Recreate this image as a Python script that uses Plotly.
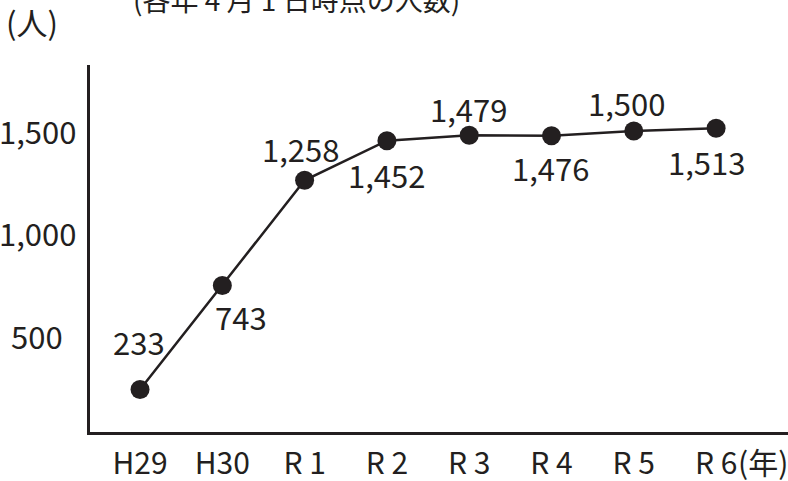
import plotly.graph_objects as go

years = ["H29", "H30", "R 1", "R 2", "R 3", "R 4", "R 5", "R 6"]
counts = [233, 743, 1258, 1452, 1479, 1476, 1500, 1513]
count_labels = ["233", "743", "1,258", "1,452", "1,479", "1,476", "1,500", "1,513"]
ytick_vals = [500, 1000, 1500]
ytick_text = ["500", "1,000", "1,500"]
# label placement (px) relative to each point
label_dx = [-1, 19, -4, 0, -1, -1, -7, -10]
label_dy = [48, -31, 32, -34, 27, -32, 28, -33]

FONT = "Noto Sans CJK JP"
INK = "#231f20"
FS = 31

xs = list(range(len(years)))

fig = go.Figure()
fig.add_trace(go.Scatter(
    x=xs, y=counts, mode="lines+markers",
    line=dict(color=INK, width=2.5),
    marker=dict(color=INK, size=19),
    hoverinfo="skip", showlegend=False,
))

annotations = []
for x, v, t, dx, dy in zip(xs, counts, count_labels, label_dx, label_dy):
    annotations.append(dict(x=x, y=v, xref="x", yref="y", text=t, showarrow=False,
                            xanchor="center", yanchor="middle", xshift=dx, yshift=dy,
                            font=dict(family=FONT, size=FS, color=INK)))
for v, t in zip(ytick_vals, ytick_text):
    annotations.append(dict(x=-53 / 698, y=v, xref="paper", yref="y", text=t, showarrow=False,
                            xanchor="center", yanchor="middle",
                            font=dict(family=FONT, size=FS, color=INK)))
annotations.append(dict(x=(763 - 90) / 698, y=-(461 - 432) / 367, xref="paper", yref="paper",
                        text="(年)", showarrow=False, xanchor="center", yanchor="middle",
                        font=dict(family=FONT, size=30, color=INK)))
annotations.append(dict(x=(32 - 90) / 698, y=1 + (65 - 22) / 367, xref="paper", yref="paper",
                        text="(人)", showarrow=False, xanchor="center", yanchor="middle",
                        font=dict(family=FONT, size=FS, color=INK)))
annotations.append(dict(x=(296 - 90) / 698, y=1 + (65 + 1) / 367, xref="paper", yref="paper",
                        text="(各年 4 月 1 日時点の人数)", showarrow=False, xanchor="center",
                        yanchor="middle",
                        font=dict(family=FONT, size=28, color=INK)))

fig.update_layout(
    width=788, height=481,
    margin=dict(l=90, r=0, t=65, b=49),
    paper_bgcolor="white", plot_bgcolor="white",
    font=dict(family=FONT, size=FS, color=INK),
    annotations=annotations,
    xaxis=dict(tickmode="array", tickvals=xs, ticktext=years, range=[-0.608, 7.874],
               showgrid=False, zeroline=False, showline=True, linecolor=INK, linewidth=3,
               ticks="", ticklabelstandoff=3, automargin=False,
               tickfont=dict(family=FONT, size=30, color=INK)),
    yaxis=dict(range=[25, 1823], showgrid=False, zeroline=False, showline=True,
               linecolor=INK, linewidth=3, showticklabels=False, ticks="", automargin=False),
)

fig.write_html("out.html", config={"displayModeBar": False},
               post_script="document.body.style.margin='0';")
